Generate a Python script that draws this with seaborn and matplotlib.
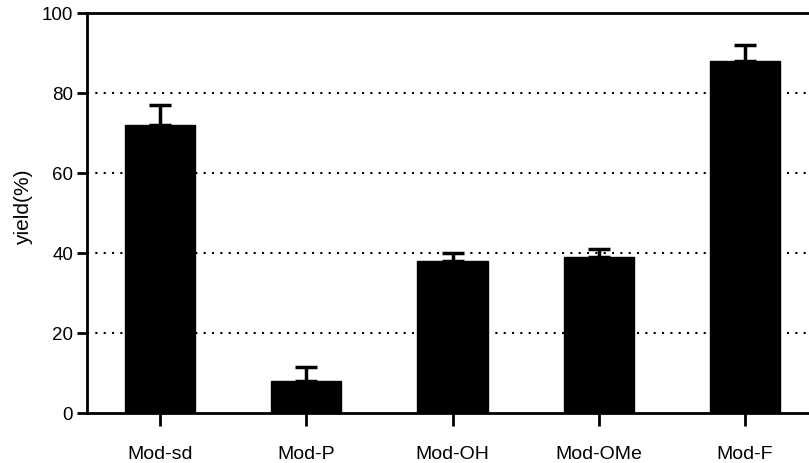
import matplotlib
matplotlib.use("Agg")
import matplotlib.pyplot as plt
import seaborn as sns
import pandas as pd

categories = ["Mod-sd", "Mod-P", "Mod-OH", "Mod-OMe", "Mod-F"]
yield_pct = [72, 8, 38, 39, 88]
yield_err = [5, 3.5, 2, 2, 4]
y_ticks = [0, 20, 40, 60, 80, 100]
grid_levels = [20, 40, 60, 80]

sns.set_theme(style="white")
plt.rcParams["font.family"] = ["Liberation Sans", "DejaVu Sans"]
plt.rcParams.update({"text.color": "black", "axes.labelcolor": "black",
                     "xtick.color": "black", "ytick.color": "black"})

df = pd.DataFrame({"sample": categories, "yield": yield_pct})

fig = plt.figure(figsize=(8.09, 4.63), dpi=100)
ax = fig.add_axes([87 / 809, 50 / 463, (818 - 87) / 809, 400 / 463])

for lvl in grid_levels:
    ax.axhline(lvl, color="black", linestyle=(0, (1, 3)), linewidth=1.5, zorder=0)

sns.barplot(data=df, x="sample", y="yield", color="black", width=0.48,
            edgecolor="black", saturation=1, ax=ax, zorder=2)

ax.errorbar(range(len(categories)), yield_pct,
            yerr=[[0] * len(categories), yield_err],
            fmt="none", ecolor="black", elinewidth=2.5, capsize=8, capthick=2.5,
            zorder=3)

ax.set_xlim(-0.5, 4.5)
ax.set_ylim(0, 100)
ax.set_yticks(y_ticks)
ax.set_xlabel("")
ax.set_ylabel("yield(%)", fontsize=15, color="black")
ax.yaxis.set_label_coords(-54 / 731, 0.515)

for side in ["left", "bottom", "top"]:
    ax.spines[side].set_visible(True)
    ax.spines[side].set_color("black")
    ax.spines[side].set_linewidth(2)
ax.spines["right"].set_visible(False)

ax.tick_params(axis="both", direction="out", color="black", labelcolor="black",
               width=2, left=True, bottom=True)
ax.tick_params(axis="y", labelsize=13.5, pad=3, length=7)
ax.tick_params(axis="x", labelsize=14, pad=14, length=9.5)

fig.savefig("out.png", dpi=100)
